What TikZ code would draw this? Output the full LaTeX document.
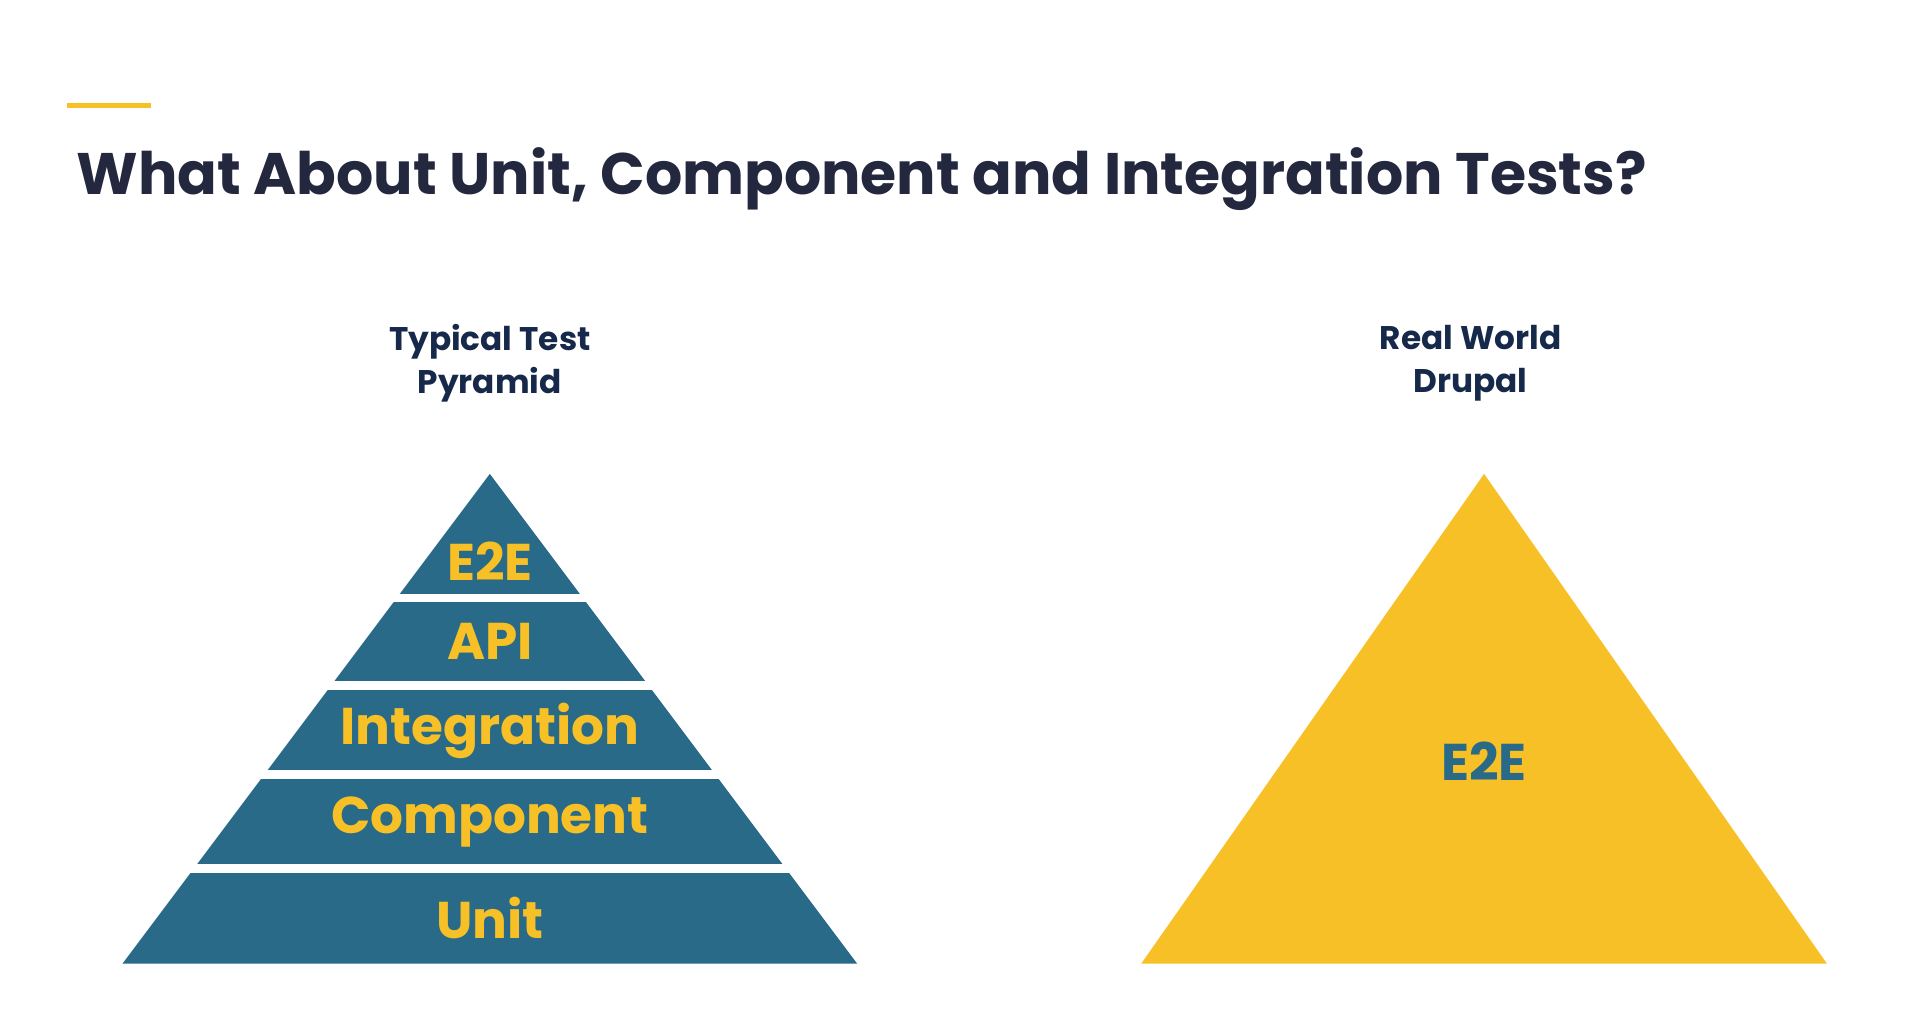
\documentclass[tikz,border=0pt]{standalone}
\usepackage{fontspec}
\setmainfont{Poppins}
\definecolor{tealblue}{HTML}{286A87}
\definecolor{sunyellow}{HTML}{F6C026}
\definecolor{inkdark}{HTML}{23283F}
\definecolor{navytext}{HTML}{17294A}
\tikzset{
  bandlabel/.style={text=sunyellow, font=\fontsize{12}{12}\selectfont\bfseries},
  headlabel/.style={text=navytext, align=center, font=\fontsize{7.6}{10}\selectfont\bfseries},
  gapline/.style={white, line width=0.07cm}
}
\begin{document}
\begin{tikzpicture}[x=0.01cm, y=-0.01cm]
  \useasboundingbox (0,0) rectangle (1568,830);

%  accent bar and title
  \draw[sunyellow, line width=0.04cm] (55,86) -- (123,86);
  \node[anchor=west, text=inkdark, font=\fontsize{13.6}{14}\selectfont\bfseries] (title) at (50,146)
    {What About Unit, Component and Integration Tests?};

  \node[headlabel] (lefthead) at (400,297) {Typical Test\\Pyramid};
  \node[headlabel] (righthead) at (1201,297) {Real World\\Drupal};

%  typical pyramid
  \fill[tealblue] (400,387) -- (700,787) -- (100,787) -- cycle;
  \foreach \y in {488.5, 560, 632.5, 709.5}
    \draw[gapline] (80,\y) -- (720,\y);
  \node[bandlabel] (e2e) at (400,458) {E2E};
  \node[bandlabel] (api) at (400,524) {API};
  \node[bandlabel] (integration) at (400,597) {Integration};
  \node[bandlabel] (component) at (400,671) {Component};
  \node[bandlabel] (unit) at (400,750) {Unit};

%  real world triangle
  \fill[sunyellow] (1212,387) -- (1492,787) -- (932,787) -- cycle;
  \node[bandlabel, text=tealblue] (drupale2e) at (1212,622) {E2E};
\end{tikzpicture}
\end{document}
